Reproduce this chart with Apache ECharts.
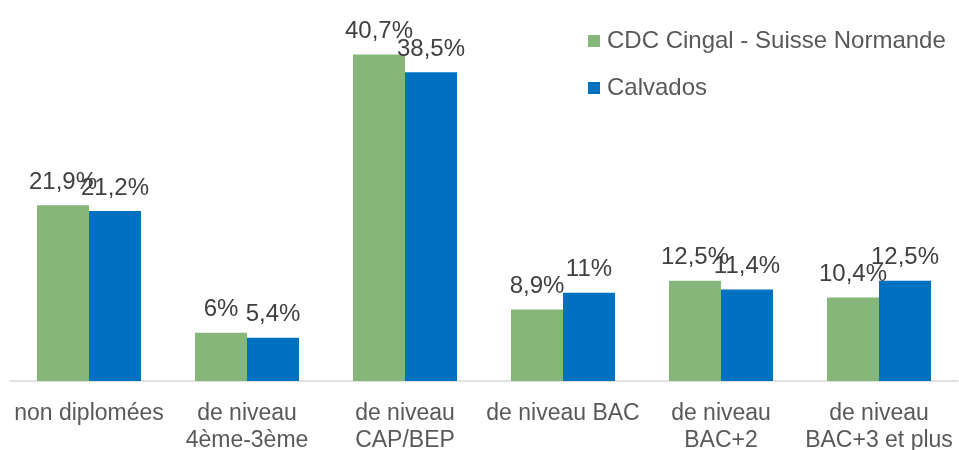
<!DOCTYPE html>
<html><head><meta charset="utf-8">
<script src="https://cdn.jsdelivr.net/npm/echarts@6/dist/echarts.min.js"></script>
<style>html,body{margin:0;padding:0;background:#fff}#c{width:959px;height:450px}</style>
</head><body><div id="c"></div>
<script>
const categories = ['non diplomées', 'de niveau\n4ème-3ème', 'de niveau\nCAP/BEP', 'de niveau BAC', 'de niveau\nBAC+2', 'de niveau\nBAC+3 et plus'];
const seriesNames = ['CDC Cingal - Suisse Normande', 'Calvados'];
const cdcValues = [21.9, 6, 40.7, 8.9, 12.5, 10.4];
const calvadosValues = [21.2, 5.4, 38.5, 11, 11.4, 12.5];

const fmt = p => String(p.value).replace('.', ',') + '%';
const lbl = {show: true, position: 'top', distance: 11, formatter: fmt, color: '#404040', fontSize: 24, fontFamily: 'Liberation Sans, Arial, sans-serif'};

const chart = echarts.init(document.getElementById('c'));
chart.setOption({
  animation: false,
  textStyle: {fontFamily: 'Liberation Sans, Arial, sans-serif'},
  grid: {left: 10, right: 1, top: 20, bottom: 69, containLabel: false, outerBoundsMode: 'none'},
  legend: {
    orient: 'vertical', left: 583, top: 24, itemWidth: 12, itemHeight: 12, itemGap: 23,
    icon: 'rect',
    textStyle: {color: '#595959', fontSize: 24, padding: [0, 0, 0, 2]},
    data: seriesNames
  },
  xAxis: {
    type: 'category', data: categories,
    axisLine: {lineStyle: {color: '#D9D9D9', width: 1.5}},
    axisTick: {show: false},
    axisLabel: {color: '#595959', fontSize: 23, lineHeight: 27, margin: 19, interval: 0}
  },
  yAxis: {type: 'value', min: 0, max: 45, show: false, splitLine: {show: false}},
  series: [
    {name: seriesNames[0], type: 'bar', data: cdcValues, barWidth: 52, barGap: '0%', itemStyle: {color: '#86B67A'}, label: lbl},
    {name: seriesNames[1], type: 'bar', data: calvadosValues, barWidth: 52, barGap: '0%', itemStyle: {color: '#0070C0'}, label: lbl}
  ]
});
</script></body></html>
